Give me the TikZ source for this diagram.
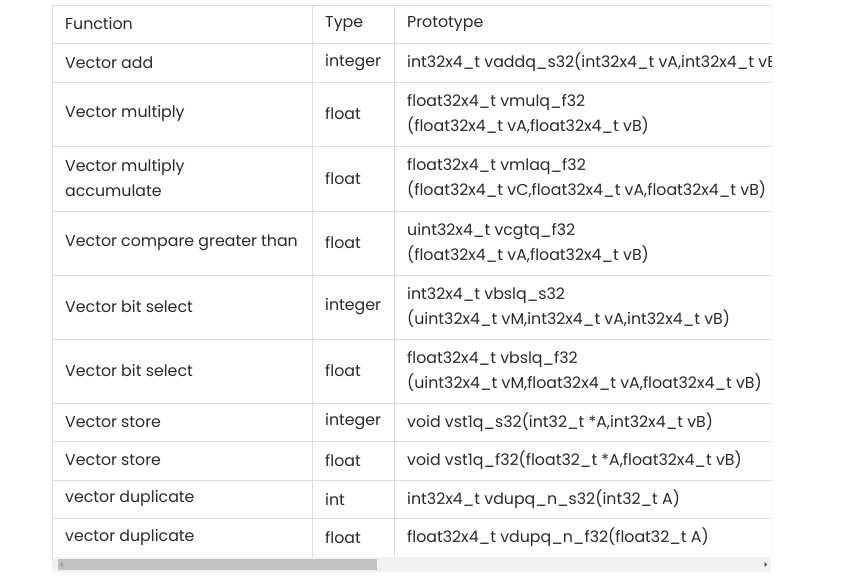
\documentclass[tikz,border=0pt]{standalone}
\usepackage{fontspec}
\setmainfont{Poppins}
\definecolor{grid}{HTML}{DDDDDD}
\definecolor{txt}{HTML}{2B2B2B}
\definecolor{sbbg}{HTML}{F1F1F1}
\definecolor{sbthumb}{HTML}{C1C1C1}
\definecolor{sbarrL}{HTML}{A0A0A0}
\definecolor{sbarrR}{HTML}{505050}
\begin{document}
\begin{tikzpicture}[x=1pt,y=-1pt,
  cell/.style={anchor=west,inner sep=0pt,text=txt,font=\fontsize{15.8}{25}\selectfont,align=left}]
\useasboundingbox (0,0) rectangle (841,576);
\fill[white] (0,0) rectangle (841,576);
\begin{scope}
\clip (52,0) rectangle (771,576);
\foreach \y in {5,43,82,146,211,275,339,403,441,480,518,557} \draw[grid] (52,\y) -- (780,\y);
\draw[grid] (52,5) -- (52,557);
\draw[grid] (312,5) -- (312,557);
\draw[grid] (394,5) -- (394,557);
\draw[grid] (771,5) -- (771,557);
\node[cell] (h1) at (65,24) {Function};
\node[cell] (h2) at (325,24) {Type};
\node[cell] (h3) at (407,24) {Prototype};
\node[cell] (a1) at (65,62.5) {Vector add};
\node[cell] (a2) at (325,62.5) {integer};
\node[cell] (a3) at (407,62.5) {int32x4\_t vaddq\_s32(int32x4\_t vA,int32x4\_t vB)};
\node[cell] (b1) at (65,114) {Vector multiply};
\node[cell] (b2) at (325,114) {float};
\node[cell] (b3) at (407,114) {float32x4\_t vmulq\_f32\\(float32x4\_t vA,float32x4\_t vB)};
\node[cell] (c1) at (65,178.5) {Vector multiply\\accumulate};
\node[cell] (c2) at (325,178.5) {float};
\node[cell] (c3) at (407,178.5) {float32x4\_t vmlaq\_f32\\(float32x4\_t vC,float32x4\_t vA,float32x4\_t vB)};
\node[cell] (d1) at (65,243) {Vector compare greater than};
\node[cell] (d2) at (325,243) {float};
\node[cell] (d3) at (407,243) {uint32x4\_t vcgtq\_f32\\(float32x4\_t vA,float32x4\_t vB)};
\node[cell] (e1) at (65,307) {Vector bit select};
\node[cell] (e2) at (325,307) {integer};
\node[cell] (e3) at (407,307) {int32x4\_t vbslq\_s32\\(uint32x4\_t vM,int32x4\_t vA,int32x4\_t vB)};
\node[cell] (f1) at (65,371) {Vector bit select};
\node[cell] (f2) at (325,371) {float};
\node[cell] (f3) at (407,371) {float32x4\_t vbslq\_f32\\(uint32x4\_t vM,float32x4\_t vA,float32x4\_t vB)};
\node[cell] (g1) at (65,422) {Vector store};
\node[cell] (g2) at (325,422) {integer};
\node[cell] (g3) at (407,422) {void vst1q\_s32(int32\_t *A,int32x4\_t vB)};
\node[cell] (i1) at (65,460.5) {Vector store};
\node[cell] (i2) at (325,460.5) {float};
\node[cell] (i3) at (407,460.5) {void vst1q\_f32(float32\_t *A,float32x4\_t vB)};
\node[cell] (j1) at (65,499) {vector duplicate};
\node[cell] (j2) at (325,499) {int};
\node[cell] (j3) at (407,499) {int32x4\_t vdupq\_n\_s32(int32\_t A)};
\node[cell] (k1) at (65,537.5) {vector duplicate};
\node[cell] (k2) at (325,537.5) {float};
\node[cell] (k3) at (407,537.5) {float32x4\_t vdupq\_n\_f32(float32\_t A)};
\end{scope}
% scrollbar
\fill[sbbg] (52,557) rectangle (771,572);
\fill[sbthumb] (58,559) rectangle (377,570);
\fill[sbarrL] (60,564.5) -- (62.5,562) -- (62.5,567) -- cycle;
\fill[sbarrR] (767,564.5) -- (764.5,562) -- (764.5,567) -- cycle;
\end{tikzpicture}
\end{document}
